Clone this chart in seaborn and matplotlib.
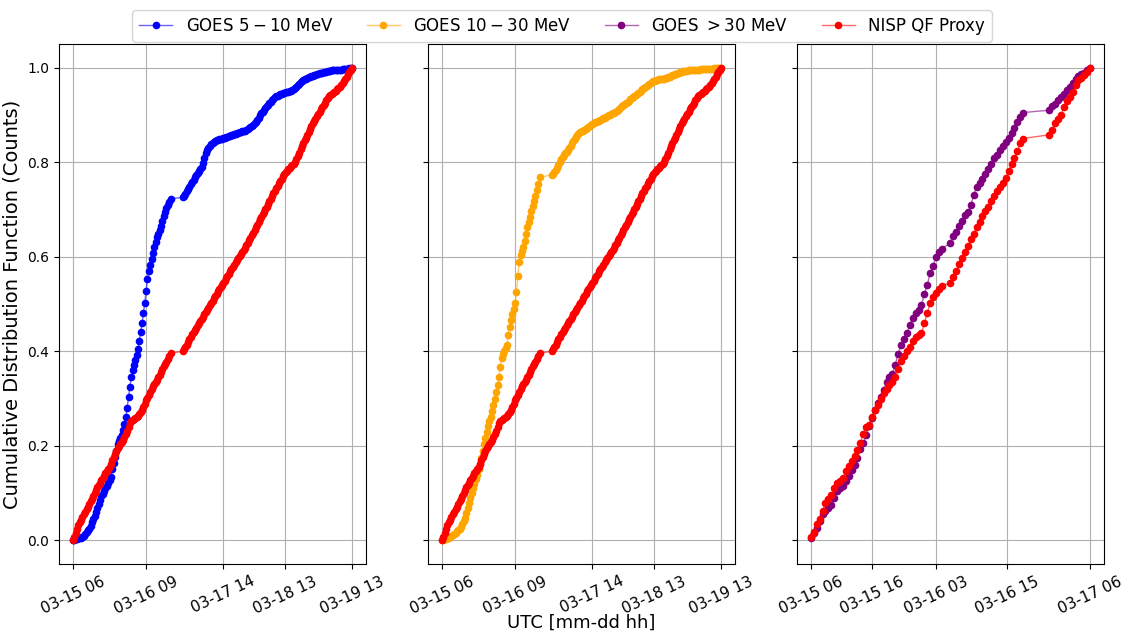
import numpy as np
import pandas as pd
import matplotlib
matplotlib.use("Agg")
import matplotlib.pyplot as plt
import matplotlib.dates as mdates
from matplotlib.lines import Line2D
from matplotlib.legend_handler import HandlerTuple
import seaborn as sns

nan = np.nan

# Half-hourly cumulative fractions, 2024-03-15 06:50 -> 2024-03-19 13:50 (NaN = no data)
goes_5_10 = [
    0.000, 0.001, 0.002, 0.003, 0.004, 0.005, 0.006, 0.008, 0.010, 0.013,
    0.017, 0.021, 0.025, 0.031, 0.038, 0.045, 0.052, 0.060, 0.068, 0.076,
    0.085, 0.093, 0.099, 0.104, 0.110, 0.116, 0.122, 0.128, 0.135, 0.150,
    0.163, 0.176, 0.190, 0.203, 0.210, 0.216, 0.222, 0.234, 0.246, 0.260,
    0.280, 0.303, 0.325, 0.345, 0.360, 0.372, 0.382, 0.393, 0.405, 0.422,
    0.440, 0.460, 0.480, 0.503, 0.528, 0.552, 0.570, 0.583, 0.596, 0.608,
    0.620, 0.632, 0.641, 0.649, 0.657, 0.666, 0.676, 0.686, 0.695, 0.703,
    0.710, 0.716, 0.722,
    nan, nan, nan, nan, nan, nan, nan, nan,
    0.726,
    0.729, 0.733, 0.738, 0.743, 0.748, 0.753, 0.758, 0.763, 0.768, 0.773,
    0.777, 0.781, 0.785, 0.790, 0.799, 0.809, 0.819, 0.826, 0.831, 0.835,
    0.838, 0.840, 0.842, 0.844, 0.846, 0.847, 0.848, 0.849, 0.850, 0.851,
    0.852, 0.853, 0.854, 0.855, 0.856, 0.857, 0.858, 0.859, 0.860, 0.861,
    0.862, 0.863, 0.864, 0.865, 0.866, 0.867, 0.869, 0.870, 0.872, 0.874,
    0.876, 0.879, 0.882, 0.886, 0.890, 0.894, 0.899, 0.903, 0.907, 0.911,
    0.915, 0.919, 0.922, 0.925, 0.928, 0.931, 0.934, 0.937, 0.939, 0.941,
    0.943, 0.944, 0.945, 0.946, 0.947, 0.948, 0.948, 0.949, 0.950, 0.951,
    0.952, 0.954, 0.957, 0.960, 0.963, 0.966, 0.969, 0.971, 0.973, 0.975,
    0.977, 0.978, 0.980, 0.981, 0.982, 0.983, 0.984, 0.985, 0.986, 0.987,
    0.988, 0.989, 0.989, 0.990, 0.991, 0.991, 0.992, 0.993, 0.993, 0.994,
    0.994, 0.995, 0.995, 0.995, 0.996, 0.996, 0.996, 0.997, 0.997, 0.997,
    0.998, 0.998, 0.999, 0.999, 1.000,
]

goes_10_30 = [
    0.000, 0.001, 0.002, 0.003, 0.005, 0.006, 0.008, 0.010, 0.012, 0.014,
    0.016, 0.019, 0.021, 0.025, 0.029, 0.034, 0.040, 0.048, 0.057, 0.068,
    0.079, 0.090, 0.100, 0.110, 0.119, 0.129, 0.139, 0.150, 0.162, 0.174,
    0.188, 0.203, 0.217, 0.229, 0.241, 0.252, 0.262, 0.273, 0.287, 0.300,
    0.314, 0.329, 0.346, 0.366, 0.385, 0.395, 0.401, 0.406, 0.413, 0.435,
    0.452, 0.467, 0.479, 0.490, 0.503, 0.525, 0.560, 0.588, 0.603, 0.612,
    0.620, 0.634, 0.648, 0.662, 0.674, 0.685, 0.696, 0.707, 0.718, 0.729,
    0.741, 0.753, 0.768,
    nan, nan, nan, nan, nan, nan, nan, nan,
    0.773,
    0.776, 0.780, 0.784, 0.788, 0.794, 0.800, 0.806, 0.811, 0.815, 0.819,
    0.822, 0.826, 0.830, 0.835, 0.840, 0.845, 0.850, 0.854, 0.858, 0.861,
    0.863, 0.865, 0.867, 0.869, 0.871, 0.873, 0.875, 0.877, 0.879, 0.881,
    0.882, 0.884, 0.885, 0.887, 0.888, 0.890, 0.891, 0.893, 0.894, 0.896,
    0.897, 0.899, 0.900, 0.902, 0.904, 0.905, 0.907, 0.909, 0.911, 0.913,
    0.916, 0.918, 0.921, 0.923, 0.926, 0.928, 0.930, 0.933, 0.935, 0.937,
    0.940, 0.942, 0.944, 0.947, 0.949, 0.951, 0.954, 0.956, 0.958, 0.961,
    0.963, 0.966, 0.968, 0.970, 0.971, 0.972, 0.973, 0.974, 0.975, 0.975,
    0.976, 0.976, 0.977, 0.978, 0.979, 0.980, 0.981, 0.982, 0.984, 0.985,
    0.986, 0.987, 0.988, 0.989, 0.990, 0.991, 0.992, 0.992, 0.993, 0.993,
    0.994, 0.994, 0.995, 0.995, 0.995, 0.996, 0.996, 0.996, 0.996, 0.997,
    0.997, 0.997, 0.997, 0.997, 0.998, 0.998, 0.998, 0.998, 0.998, 0.999,
    0.999, 0.999, 0.999, 1.000, 1.000,
]

nisp_long = [
    0.000, 0.008, 0.016, 0.025, 0.032, 0.038, 0.044, 0.049, 0.055, 0.060,
    0.066, 0.071, 0.077, 0.083, 0.088, 0.094, 0.101, 0.107, 0.112, 0.117,
    0.122, 0.127, 0.132, 0.137, 0.142, 0.147, 0.151, 0.155, 0.162, 0.169,
    0.176, 0.183, 0.189, 0.195, 0.200, 0.204, 0.208, 0.213, 0.218, 0.224,
    0.232, 0.240, 0.248, 0.252, 0.255, 0.257, 0.259, 0.261, 0.263, 0.267,
    0.271, 0.276, 0.282, 0.289, 0.296, 0.302, 0.308, 0.314, 0.320, 0.326,
    0.331, 0.335, 0.340, 0.345, 0.350, 0.356, 0.362, 0.368, 0.373, 0.378,
    0.384, 0.390, 0.396,
    nan, nan, nan, nan, nan, nan, nan, nan,
    0.400,
    0.404, 0.409, 0.414, 0.419, 0.425, 0.431, 0.437, 0.441, 0.445, 0.450,
    0.455, 0.459, 0.464, 0.469, 0.473, 0.478, 0.483, 0.487, 0.492, 0.497,
    0.502, 0.507, 0.512, 0.517, 0.522, 0.527, 0.532, 0.536, 0.540, 0.545,
    0.549, 0.554, 0.559, 0.564, 0.569, 0.574, 0.578, 0.583, 0.588, 0.593,
    0.598, 0.602, 0.606, 0.610, 0.614, 0.619, 0.624, 0.629, 0.635, 0.640,
    0.646, 0.651, 0.657, 0.662, 0.668, 0.673, 0.679, 0.684, 0.690, 0.695,
    0.701, 0.706, 0.712, 0.717, 0.723, 0.728, 0.734, 0.739, 0.745, 0.750,
    0.755, 0.760, 0.765, 0.770, 0.775, 0.779, 0.782, 0.785, 0.788, 0.791,
    0.794, 0.797, 0.800, 0.806, 0.813, 0.820, 0.827, 0.834, 0.840, 0.846,
    0.852, 0.858, 0.864, 0.870, 0.876, 0.882, 0.887, 0.892, 0.897, 0.902,
    0.907, 0.912, 0.917, 0.922, 0.926, 0.931, 0.935, 0.939, 0.942, 0.945,
    0.947, 0.949, 0.951, 0.954, 0.957, 0.960, 0.963, 0.967, 0.971, 0.976,
    0.981, 0.986, 0.990, 0.995, 1.000,
]

# Half-hourly cumulative fractions, 2024-03-15 06:00 -> 2024-03-17 06:00 (NaN = no data)
goes_gt30 = [
    0.005, 0.015, 0.026, 0.042, 0.056, 0.063, 0.069, 0.075, 0.090, 0.105,
    0.110, 0.114, 0.125, 0.137, 0.148, 0.160, 0.175, 0.193, 0.206, 0.222,
    0.242, 0.258, 0.275, 0.290, 0.303, 0.318, 0.336, 0.346, 0.352, 0.372,
    0.395, 0.413, 0.427, 0.438, 0.455, 0.470, 0.481, 0.488, 0.497, 0.522,
    0.540, 0.565, 0.580, 0.600, 0.611, 0.617, nan, nan, 0.629, 0.643,
    0.653, 0.665, 0.676, 0.688, 0.695, 0.709, 0.731, 0.747, 0.755, 0.764,
    0.775, 0.785, 0.797, 0.808, 0.816, 0.826, 0.835, 0.843, 0.852, 0.862,
    0.872, 0.884, 0.895, 0.905,
    nan, nan, nan, nan, nan, nan, nan, nan,
    0.910, 0.918, 0.924, 0.931, 0.938, 0.945, 0.953, 0.960, 0.967, 0.975,
    0.982, 0.986, 0.989, 0.994, 1.000,
]

nisp_short = [
    0.008, 0.018, 0.034, 0.046, 0.062, 0.080, 0.088, 0.096, 0.110, 0.122,
    0.126, 0.131, 0.146, 0.158, 0.167, 0.178, 0.192, 0.207, 0.225, 0.240,
    0.245, 0.262, 0.276, 0.287, 0.298, 0.311, 0.320, 0.328, 0.334, 0.345,
    0.362, 0.379, 0.390, 0.400, 0.410, 0.421, 0.430, 0.434, 0.438, 0.459,
    0.480, 0.502, 0.514, 0.524, 0.531, 0.538, nan, nan, 0.545, 0.557,
    0.570, 0.584, 0.597, 0.610, 0.623, 0.637, 0.649, 0.662, 0.674, 0.687,
    0.696, 0.705, 0.717, 0.729, 0.738, 0.747, 0.756, 0.767, 0.781, 0.796,
    0.808, 0.823, 0.840, 0.850,
    nan, nan, nan, nan, nan, nan, nan, nan,
    0.858, 0.869, 0.882, 0.891, 0.900, 0.916, 0.930, 0.938, 0.948, 0.964,
    0.973, 0.978, 0.984, 0.990, 1.000,
]

cadence = "30min"
long_start = "2024-03-15 06:50"
short_start = "2024-03-15 06:00"

long_ticks = ["2024-03-15 06:50", "2024-03-16 09:55", "2024-03-17 14:08",
              "2024-03-18 13:00", "2024-03-19 13:50"]
short_ticks = ["2024-03-15 06:00", "2024-03-15 16:30", "2024-03-16 03:35",
               "2024-03-16 15:40", "2024-03-17 06:00"]

legend_labels = [r"GOES $5-10$ MeV", r"GOES $10-30$ MeV", r"GOES $>30$ MeV", "NISP QF Proxy"]
colors = ["blue", "orange", "purple", "red"]

MS = 4.5


def as_frame(values, start):
    t = pd.date_range(start, periods=len(values), freq=cadence)
    return pd.DataFrame({"time": t, "cdf": values}).dropna()


def draw(ax, df, color, z):
    sns.lineplot(data=df, x="time", y="cdf", ax=ax, color=color, linewidth=1,
                 alpha=0.6, estimator=None, sort=False, zorder=z)
    sns.lineplot(data=df, x="time", y="cdf", ax=ax, color=color, linestyle="none",
                 marker="o", markersize=MS, markeredgewidth=1, markeredgecolor=color,
                 estimator=None, sort=False, zorder=z + 0.1)


panels = [
    (goes_5_10, nisp_long, long_start, long_ticks, colors[0]),
    (goes_10_30, nisp_long, long_start, long_ticks, colors[1]),
    (goes_gt30, nisp_short, short_start, short_ticks, colors[2]),
]

fig, axes = plt.subplots(1, 3, figsize=(11.24, 6.34), dpi=100, sharey=True)
fig.subplots_adjust(left=0.0525, right=0.9822, top=0.9306, bottom=0.1104, wspace=0.202)

for ax, (goes, nisp, start, ticks, gcol) in zip(axes, panels):
    draw(ax, as_frame(goes, start), gcol, 2)
    draw(ax, as_frame(nisp, start), colors[3], 3)
    ax.set_xticks(pd.to_datetime(ticks))
    ax.xaxis.set_major_formatter(mdates.DateFormatter("%m-%d %H"))
    ax.tick_params(axis="x", labelsize=11, labelrotation=25)
    ax.tick_params(axis="y", labelsize=10)
    ax.grid(True, color="#b0b0b0", linewidth=0.8)
    ax.set_xlabel("")
    ax.set_ylabel("")

axes[0].set_yticks([0.0, 0.2, 0.4, 0.6, 0.8, 1.0])
axes[0].set_ylabel("Cumulative Distribution Function (Counts)", fontsize=14)

# shared x label under the middle panel
mid = axes[1].get_position()
fig.text((mid.x0 + mid.x1) / 2, 0.018, "UTC [mm-dd hh]", ha="center", va="center",
         fontsize=13)

handles = []
for c in colors:
    handles.append((Line2D([], [], color=c, linewidth=1, alpha=0.6),
                    Line2D([], [], color=c, linestyle="none", marker="o",
                           markersize=MS, markeredgewidth=1)))
fig.legend(handles, legend_labels, loc="upper center", bbox_to_anchor=(0.5, 0.997),
           ncol=4, fontsize=12, handler_map={tuple: HandlerTuple(ndivide=1)})

fig.savefig("out.png", dpi=100)
